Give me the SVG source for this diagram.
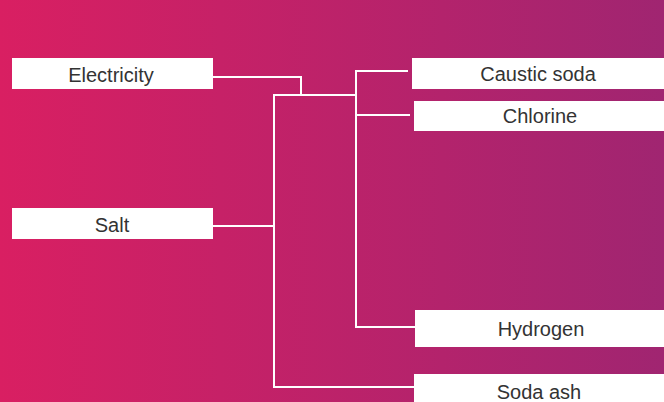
<svg xmlns="http://www.w3.org/2000/svg" width="664" height="402" viewBox="0 0 664 402">
<defs>
<linearGradient id="bg" x1="0" y1="0" x2="1" y2="0">
<stop offset="0" stop-color="#d91f62"/>
<stop offset="1" stop-color="#a02571"/>
</linearGradient>
<style>
.box{fill:#ffffff;}
.lbl{font-family:"Liberation Sans",Arial,sans-serif;font-size:20px;fill:#333333;text-anchor:middle;}
.ln{fill:none;stroke:#ffffff;stroke-width:2;}
</style>
</defs>
<rect x="0" y="0" width="664" height="402" fill="url(#bg)"/>
<g id="connectors">
<polyline class="ln" points="213,77 301,77 301,95"/>
<line class="ln" x1="273" y1="95" x2="357" y2="95"/>
<polyline class="ln" points="213,226 274,226"/>
<polyline class="ln" points="274,94 274,387 414,387"/>
<polyline class="ln" points="408,71 356,71 356,327 415,327"/>
<line class="ln" x1="356" y1="115" x2="410" y2="115"/>
</g>
<g id="electricity">
<rect class="box" x="12" y="58" width="201" height="31"/>
<text class="lbl" x="111" y="82">Electricity</text>
</g>
<g id="salt">
<rect class="box" x="12" y="208" width="201" height="31"/>
<text class="lbl" x="112" y="232">Salt</text>
</g>
<g id="caustic-soda">
<rect class="box" x="412" y="58" width="252" height="31"/>
<text class="lbl" x="538" y="81">Caustic soda</text>
</g>
<g id="chlorine">
<rect class="box" x="414" y="101" width="250" height="30"/>
<text class="lbl" x="540" y="123">Chlorine</text>
</g>
<g id="hydrogen">
<rect class="box" x="415" y="310" width="249" height="37"/>
<text class="lbl" x="541" y="336">Hydrogen</text>
</g>
<g id="soda-ash">
<rect class="box" x="414" y="374" width="250" height="28"/>
<text class="lbl" x="539" y="399">Soda ash</text>
</g>
</svg>
